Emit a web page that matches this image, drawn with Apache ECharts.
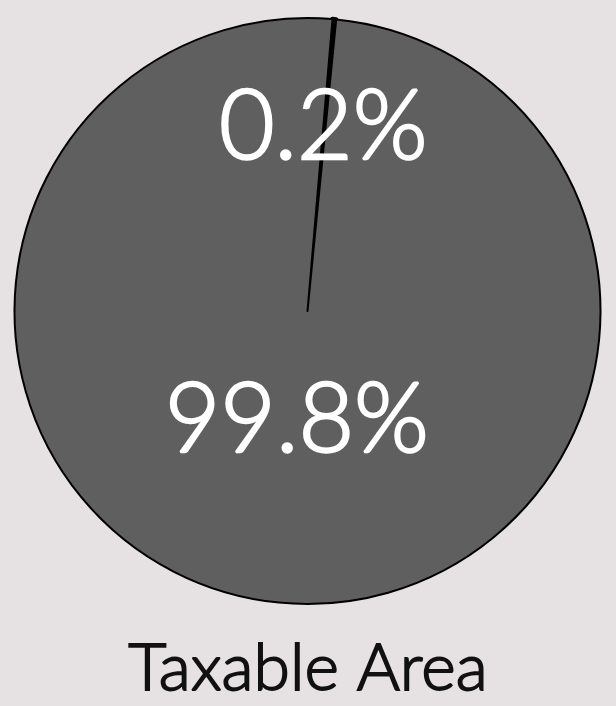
<!DOCTYPE html>
<html>
<head>
<meta charset="utf-8">
<script src="https://cdn.jsdelivr.net/npm/echarts@6/dist/echarts.min.js"></script>
<style>
  html, body { margin: 0; padding: 0; background: #e6e2e3; }
  #chart { width: 616px; height: 706px; }
</style>
</head>
<body>
<div id="chart"></div>
<script>
// Share of land area that is taxable vs. exempt
const categories = ['Exempt', 'Taxable'];
const shares = [0.2, 99.8];
const sliceColors = ['#000000', '#5f5f5f'];
const sliceBorders = [4.5, 2];
const chartTitle = 'Taxable Area';

const labelFont = 'Lato, "Open Sans", sans-serif';
// per-slice label nudges along the pie
const labelOffsets = [[2, -34], [3, -39]];

const chart = echarts.init(document.getElementById('chart'), null, { renderer: 'canvas' });

chart.setOption({
  backgroundColor: '#e6e2e3',
  animation: false,
  title: {
    text: chartTitle,
    left: 'center',
    top: 631,
    textStyle: {
      fontFamily: labelFont,
      fontSize: 66,
      fontWeight: 300,
      color: '#111111',
      textBorderColor: '#111111',
      textBorderWidth: 1.8
    }
  },
  series: [{
    type: 'pie',
    center: [307.5, 311],
    radius: 293,
    startAngle: 85.1,
    clockwise: true,
    silent: true,
    itemStyle: { borderColor: '#000000', borderWidth: 2 },
    label: {
      show: true,
      position: 'inside',
      formatter: p => p.value + '%',
      color: '#ffffff',
      fontFamily: labelFont,
      fontSize: 96,
      fontWeight: 300,
      textBorderColor: '#ffffff',
      textBorderWidth: 2.4
    },
    labelLine: { show: false },
    data: categories.map((name, i) => ({
      name,
      value: shares[i],
      itemStyle: { color: sliceColors[i], borderWidth: sliceBorders[i] },
      label: { offset: labelOffsets[i] }
    }))
  }]
});
</script>
</body>
</html>
